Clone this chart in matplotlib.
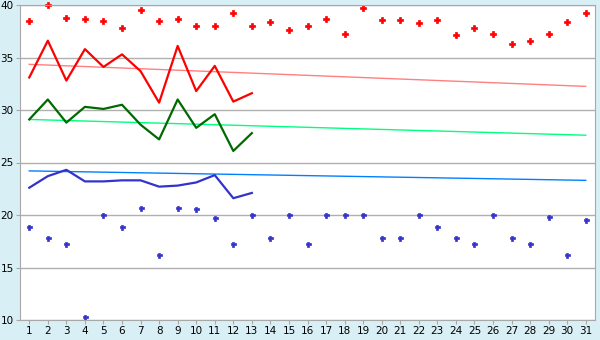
import matplotlib
matplotlib.use("Agg")
import matplotlib.pyplot as plt

days = list(range(1, 32))

red_points = [38.5, 40.0, 38.8, 38.7, 38.5, 37.8, 39.5, 38.5, 38.7, 38.0,
              38.0, 39.2, 38.0, 38.4, 37.6, 38.0, 38.7, 37.2, 39.7, 38.6,
              38.6, 38.3, 38.6, 37.1, 37.8, 37.2, 36.3, 36.6, 37.2, 38.4, 39.2]
blue_points = [18.9, 17.8, 17.2, 10.3, 20.0, 18.9, 20.7, 16.2, 20.7, 20.6,
               19.7, 17.2, 20.0, 17.8, 20.0, 17.2, 20.0, 20.0, 20.0, 17.8,
               17.8, 20.0, 18.9, 17.8, 17.2, 20.0, 17.8, 17.2, 19.8, 16.2, 19.5]

line_days = list(range(1, 14))
red_line = [33.1, 36.6, 32.8, 35.8, 34.1, 35.3, 33.7, 30.7, 36.1, 31.8, 34.2, 30.8, 31.6]
green_line = [29.1, 31.0, 28.8, 30.3, 30.1, 30.5, 28.6, 27.2, 31.0, 28.3, 29.6, 26.1, 27.8]
blue_line = [22.6, 23.7, 24.3, 23.2, 23.2, 23.3, 23.3, 22.7, 22.8, 23.1, 23.8, 21.6, 22.1]

trend_days = [1, 31]
red_trend = [34.35, 32.25]
green_trend = [29.1, 27.6]
blue_trend = [24.2, 23.3]

bg = "#d9eff6"
fig = plt.figure(figsize=(6, 3.4), dpi=100, facecolor=bg)
ax = fig.add_axes([20 / 600, 20 / 340, 575 / 600, 315 / 340])
ax.set_facecolor("white")

# trend lines
ax.plot(trend_days, red_trend, color="#ff8080", lw=1.0)
ax.plot(trend_days, green_trend, color="#00ff80", lw=1.0)
ax.plot(trend_days, blue_trend, color="#0080ff", lw=1.0)

# main lines
ax.plot(line_days, red_line, color="#ff0000", lw=1.6)
ax.plot(line_days, green_line, color="#006a00", lw=1.6)
ax.plot(line_days, blue_line, color="#3333cc", lw=1.6)

# scatter points
ax.plot(days, red_points, ls="none", marker="P", ms=4, color="#ff0000",
        mec="#ff0000", mew=0.5, clip_on=False)
ax.plot(days, blue_points, ls="none", marker="P", ms=3.6, color="#3333cc",
        mec="#3333cc", mew=0.5, clip_on=False)

ax.set_xlim(0.5, 31.5)
ax.set_ylim(10, 40)
ax.set_xticks(days)
ax.set_yticks([10, 15, 20, 25, 30, 35, 40])
ax.grid(axis="y", color="#b0b0b0", lw=1)
ax.set_axisbelow(True)
for s in ax.spines.values():
    s.set_color("#a8a8a8")
ax.tick_params(colors="#a8a8a8", labelcolor="black", labelsize=7.5, length=3, pad=1.5)

fig.savefig("out.png", dpi=100, facecolor=bg)
